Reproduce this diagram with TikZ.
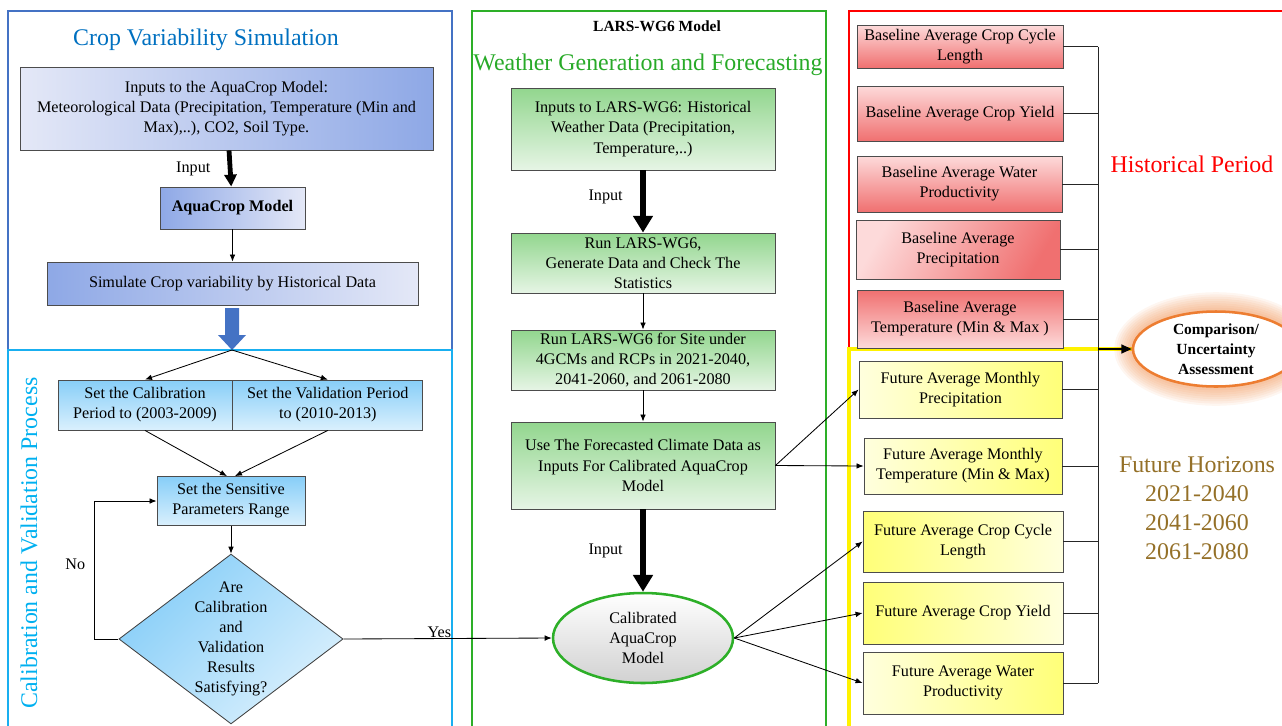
\documentclass[tikz,border=0pt]{standalone}
\usepackage{fontspec}
\setmainfont{Liberation Serif}
\usetikzlibrary{shapes.geometric, arrows.meta, positioning, calc}

\definecolor{panelblue}{RGB}{68,114,196}
\definecolor{panelcyan}{RGB}{25,175,240}
\definecolor{panelgreen}{RGB}{45,175,40}
\definecolor{titleblue}{RGB}{0,112,192}
\definecolor{titlecyan}{RGB}{0,176,240}
\definecolor{titlegreen}{RGB}{40,170,40}
\definecolor{horizon}{RGB}{148,112,40}
\definecolor{cmporange}{RGB}{237,125,49}
\definecolor{bluedark}{RGB}{142,168,230}
\definecolor{bluelight}{RGB}{228,232,247}
\definecolor{skydark}{RGB}{135,206,248}
\definecolor{skylight}{RGB}{218,240,253}
\definecolor{greendark}{RGB}{146,214,142}
\definecolor{greenlight}{RGB}{230,245,229}
\definecolor{reddark}{RGB}{240,112,112}
\definecolor{redlight}{RGB}{253,218,218}
\definecolor{yellowdark}{RGB}{255,255,120}
\definecolor{yellowlight}{RGB}{255,255,222}

\begin{document}
\begin{tikzpicture}[
    x=0.025cm, y=-0.025cm,
    font=\fontsize{11.5}{14.3}\selectfont,
    wh/.style 2 args={minimum width=#1*0.025cm, minimum height=#2*0.025cm},
    panel/.style={line width=1.6pt},
    title/.style={font=\fontsize{17}{20.6}\selectfont, inner sep=0pt},
    box/.style={rectangle, draw=black!70, line width=0.6pt, align=center, inner sep=1pt},
    bluebox/.style={box, left color=bluelight, right color=bluedark},
    bluebox rev/.style={box, left color=bluedark, right color=bluelight},
    skybox/.style={box, top color=skydark, bottom color=skylight},
    decision/.style={diamond, draw=black!75, line width=0.6pt, align=center, aspect=1.32, inner sep=0pt,
        top color=skydark, bottom color=skylight, shading angle=45},
    greenbox/.style={box, top color=greendark, bottom color=greenlight},
    redbox/.style={box, top color=redlight, bottom color=reddark},
    redbox up/.style={box, top color=reddark, bottom color=redlight},
    redbox side/.style={box, left color=redlight, right color=reddark, shading angle=60},
    yellowbox/.style={box, left color=yellowlight, right color=yellowdark},
    yellowbox rev/.style={box, left color=yellowdark, right color=yellowlight},
    modelellipse/.style={ellipse, draw=panelgreen, line width=1.8pt, align=center, inner sep=0pt,
        top color=white, bottom color=black!18},
    cmpellipse/.style={ellipse, draw=cmporange, line width=1.8pt, fill=white, align=center, inner sep=0pt,
        font=\fontsize{11}{14.2}\selectfont\bfseries},
    arrow/.style={-{Latex[length=5pt,width=4pt]}, line width=0.6pt},
    fatarrow/.style={-{Triangle[length=0.42cm,width=0.48cm]}, line width=0.15cm},
    fatarrow small/.style={-{Triangle[length=0.3cm,width=0.3cm]}, line width=0.12cm},
    busline/.style={line width=0.7pt, black!85},
    cmparrow/.style={-{Triangle[length=0.26cm,width=0.22cm]}, line width=1.4pt}
]
\useasboundingbox (0,0) rectangle (1282,725);

\draw[panel, panelblue] (8,11) rectangle (452,350);
\draw[panel, panelcyan, line width=2pt] (8,350) rectangle (452,740);
\draw[panel, panelgreen, line width=1.8pt] (472,11) rectangle (826,740);
\draw[panel, red] (849,11) rectangle (1300,349);
\draw[panel, yellow, line width=2.2pt] (849,349) rectangle (1300,740);

\node[title, titleblue] (cvstitle) at (206,40) {Crop Variability Simulation};
\node[title, titlecyan, rotate=90] (cvptitle) at (29,543) {Calibration and Validation Process};
\node[font=\fontsize{11}{13}\selectfont\bfseries] (larstitle) at (657,26) {LARS-WG6 Model};
\node[title, titlegreen] (wgtitle) at (648,65) {Weather Generation and Forecasting};
\node[title, red] (histtitle) at (1192,164) {Historical Period};
\node[title, horizon, align=center] (futtitle) at (1197,508) {Future Horizons\\2021-2040\\2041-2060\\2061-2080};

\node[bluebox, wh={413}{83}] (metinput) at (226.5,108.5) {Inputs to the AquaCrop Model:\\Meteorological Data (Precipitation, Temperature (Min and\\Max),..), CO2, Soil Type.};
\node[bluebox rev, wh={145}{42}] (aquacrop) at (232.5,208) {\textbf{AquaCrop Model}};
\node[bluebox rev, wh={371}{43}] (simulate) at (232.5,283.5) {Simulate Crop variability by Historical Data};
\coordinate (split) at (232,350);
\fill[panelblue] (225,308) -- (239,308) -- (239,335) -- (246,335) -- (232,350) -- (218,335) -- (225,335) -- cycle;

\node[skybox, wh={174}{50}] (calib) at (145,405) {Set the Calibration\\Period to (2003-2009)};
\node[skybox, wh={190}{50}, right=0pt of calib] (valid) {Set the Validation Period\\to (2010-2013)};
\node[skybox, wh={148}{49}] (sensitive) at (231,501) {Set the Sensitive\\Parameters Range};
\node[decision, wh={214}{162}] (satisfy) at (231,639) {Are\\Calibration\\and\\Validation\\Results\\Satisfying?};

\node[greenbox, wh={264}{82}] (larsinput) at (643,129) {Inputs to LARS-WG6: Historical\\Weather Data (Precipitation,\\Temperature,..)};
\node[greenbox, wh={264}{60}] (runlars) at (643,263) {Run LARS-WG6,\\Generate Data and Check The\\Statistics};
\node[greenbox, wh={264}{60}] (runsite) at (643,360) {Run LARS-WG6 for Site under\\4GCMs and RCPs in 2021-2040,\\2041-2060, and 2061-2080};
\node[greenbox, wh={264}{87}] (forecast) at (643,465.5) {Use The Forecasted Climate Data as\\Inputs For Calibrated AquaCrop\\Model};
\node[modelellipse, wh={180}{90}] (calmodel) at (643,638) {Calibrated\\AquaCrop\\Model};

\node[redbox, wh={206}{43}] (bcycle) at (960,46.5) {Baseline Average Crop Cycle\\Length};
\node[redbox, wh={206}{55}] (byield) at (960,113.5) {Baseline Average Crop Yield};
\node[redbox, wh={205}{56}] (bwater) at (959.5,184) {Baseline Average Water\\Productivity};
\node[redbox side, wh={204}{59}] (bprecip) at (958,249.5) {Baseline Average\\Precipitation};
\node[redbox up, wh={206}{58}] (btemp) at (960,319) {Baseline Average\\Temperature (Min \& Max )};

\node[yellowbox, wh={203}{57}] (fprecip) at (960.5,389.5) {Future Average Monthly\\Precipitation};
\node[yellowbox, wh={198}{56}] (ftemp) at (963,466) {Future Average Monthly\\Temperature (Min \& Max)};
\node[yellowbox rev, wh={200}{61}] (fcycle) at (963,541.5) {Future Average Crop Cycle\\Length};
\node[yellowbox rev, wh={200}{62}] (fyield) at (963,613) {Future Average Crop Yield};
\node[yellowbox, wh={200}{62}] (fwater) at (963,683) {Future Average Water\\Productivity};

\coordinate (cmpc) at (1216,349);
\foreach \s in {1,...,9}
    \fill[cmporange, opacity=0.07] (cmpc) ellipse ({(82+2.2*\s)*0.025cm} and {(37+2.2*\s)*0.025cm});
\node[cmpellipse, wh={166}{75}] (cmp) at (cmpc) {Comparison/\\Uncertainty\\Assessment};

\draw[fatarrow small] (metinput) -- node[left=9pt] {Input} (aquacrop);
\draw[arrow] (aquacrop) -- (simulate);
\draw[arrow] (split) -- (calib.north);
\draw[arrow] (split) -- (valid.north);
\draw[arrow] (calib.south) -- ([xshift=-0.1cm]sensitive.north);
\draw[arrow] (valid.south) -- ([xshift=0.1cm]sensitive.north);
\draw[arrow] (sensitive) -- (satisfy);
\draw[arrow] (satisfy.west) -- ++(-24,0) |- node[pos=0.27, left=3pt] {No} (sensitive.west);
\draw[arrow] (satisfy.east) -- node[pos=0.46, above, inner sep=0pt] {Yes} (calmodel.west);

\draw[fatarrow] (larsinput) -- node[pos=0.42, left=9pt] {Input} (runlars);
\draw[arrow] (runlars) -- (runsite);
\draw[arrow] (runsite) -- (forecast);
\draw[fatarrow] (forecast) -- node[midway, left=9pt] {Input} (calmodel);

\draw[arrow] (forecast.east) -- (fprecip.west);
\draw[arrow] (forecast.east) -- (ftemp.west);
\draw[arrow] (calmodel.east) -- (fcycle.west);
\draw[arrow] (calmodel.east) -- (fyield.west);
\draw[arrow] (calmodel.east) -- (fwater.west);

\coordinate (bus) at (1098,0);
\foreach \n in {bcycle,byield,bwater,bprecip,btemp,fprecip,ftemp,fcycle,fyield,fwater}
    \draw[busline] (\n.east) -- (\n.east -| bus);
\draw[busline] (bcycle.east -| bus) -- (fwater.east -| bus);
\draw[cmparrow] (bus |- cmp.west) -- (cmp.west);

\end{tikzpicture}
\end{document}
